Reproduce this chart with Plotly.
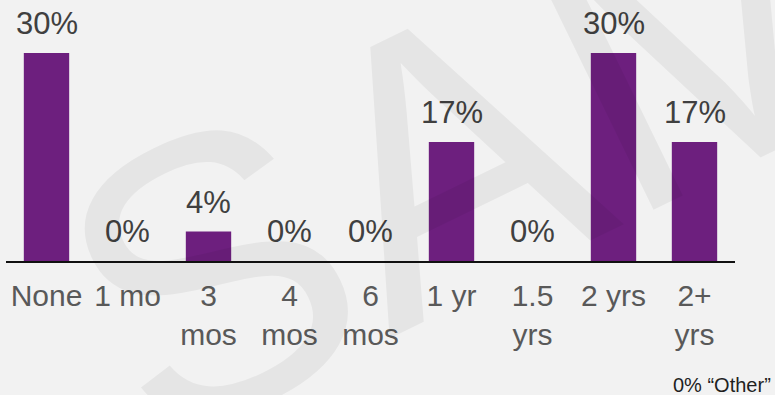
import plotly.graph_objects as go

categories = ["None", "1 mo", "3<br>mos", "4<br>mos", "6<br>mos", "1 yr", "1.5<br>yrs", "2 yrs", "2+<br>yrs"]
values = [30.4, 0, 4.3, 0, 0, 17.4, 0, 30.4, 17.4]
labels = ["30%", "0%", "4%", "0%", "0%", "17%", "0%", "30%", "17%"]
footnote = "0% \u201cOther\u201d"
watermark = "SAMPLE"

FONT = "Liberation Sans, Arial, sans-serif"
BAR = "#6D1F7E"
BG = "#F2F2F2"

fig = go.Figure()
fig.add_trace(go.Bar(
    x=categories, y=values,
    marker=dict(color=BAR, line=dict(width=0)),
    width=0.56,
    hoverinfo="skip",
))

annotations = []
for c, v, t in zip(categories, values, labels):
    annotations.append(dict(
        x=c, y=v, xref="x", yref="y", text=t, showarrow=False,
        xanchor="center", yanchor="bottom", yshift=10,
        font=dict(family=FONT, size=31, color="#404040"),
    ))

annotations.append(dict(
    x=1.0521, y=-0.57, xref="paper", yref="paper", text=footnote, showarrow=False,
    xanchor="right", yanchor="bottom",
    font=dict(family=FONT, size=20, color="#1F1F1F"),
))

annotations.append(dict(
    x=1.103, y=1.158, xref="paper", yref="paper", text=watermark, showarrow=False,
    xanchor="center", yanchor="middle", textangle=-26,
    font=dict(family=FONT, size=393, color="rgba(0,0,0,0.05)"),
))

fig.update_layout(
    width=775, height=395,
    margin=dict(l=6, r=40, t=20, b=134, pad=0),
    paper_bgcolor=BG, plot_bgcolor=BG,
    showlegend=False,
    bargap=0.44,
    annotations=annotations,
    xaxis=dict(
        type="category", range=[-0.5, 8.5],
        showline=True, linecolor="#111111", linewidth=2,
        showgrid=False, zeroline=False, ticks="",
        ticklabelstandoff=7,
        tickfont=dict(family=FONT, size=30, color="#595959"),
        fixedrange=True,
    ),
    yaxis=dict(
        range=[0, 35.23], visible=False, showgrid=False, zeroline=False,
        fixedrange=True,
    ),
)

fig.write_html("out.html", config={"displayModeBar": False})
